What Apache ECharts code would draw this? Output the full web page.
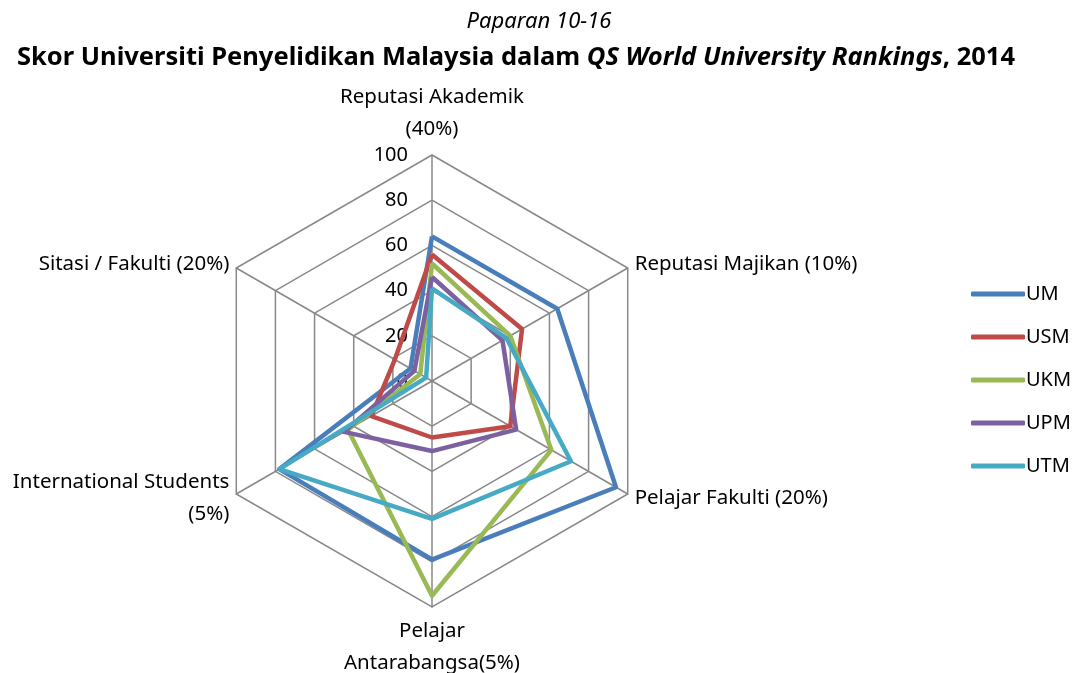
<!DOCTYPE html>
<html>
<head>
<meta charset="utf-8">
<script src="https://cdn.jsdelivr.net/npm/echarts@6/dist/echarts.min.js"></script>
<style>
  html, body { margin: 0; padding: 0; background: #fff; }
  #chart { width: 1078px; height: 673px; }
</style>
</head>
<body>
<div id="chart"></div>
<script>
// indicator order: ECharts lays axes counterclockwise from the top
const indicators = [
  'Reputasi Akademik\n(40%)',
  'Sitasi / Fakulti (20%)',
  'International Students\n(5%)',
  'Pelajar\nAntarabangsa(5%)',
  'Pelajar Fakulti (20%)',
  'Reputasi Majikan (10%)',
];
const universities = ['UM', 'USM', 'UKM', 'UPM', 'UTM'];
const colors = ['#4a7ebb', '#be4b48', '#98b954', '#7d60a0', '#46aac5'];

// skor ikut susunan indicators
const UM  = [64, 11, 78, 79, 94, 64];
const USM = [56, 19, 31, 25, 40, 46];
const UKM = [52, 6, 43, 95, 61, 40];
const UPM = [46, 9, 45, 31, 43, 36];
const UTM = [41, 3, 78, 61, 71, 38];
const seriesData = [UM, USM, UKM, UPM, UTM];

const FONT = '"Noto Sans", "Open Sans", sans-serif';
const chart = echarts.init(document.getElementById('chart'));

chart.setOption({
  backgroundColor: '#fff',
  animation: false,
  title: [{
    left: 'center',
    top: 6,
    text: 'Paparan 10-16',
    textStyle: { fontFamily: FONT, fontSize: 22, fontStyle: 'italic', fontWeight: 'normal', color: '#000' },
  }, {
    left: 12,
    top: 40,
    text: '{b|Skor Universiti Penyelidikan Malaysia dalam }{bi|QS World University Rankings}{b|, 2014}',
    textStyle: {
      rich: {
        b: { fontFamily: FONT, fontSize: 25.5, fontWeight: 'bold', color: '#000' },
        bi: { fontFamily: FONT, fontSize: 25.5, fontWeight: 'bold', fontStyle: 'italic', color: '#000' },
      },
    },
  }],
  legend: {
    orient: 'vertical',
    left: 966,
    top: 279,
    itemGap: 23,
    itemWidth: 54,
    itemHeight: 5,
    icon: 'roundRect',
    data: universities,
    textStyle: { fontFamily: FONT, fontSize: 20, color: '#000', padding: [0, 0, 0, -4] },
  },
  radar: {
    center: [432, 381],
    radius: 226,
    startAngle: 90,
    splitNumber: 5,
    shape: 'polygon',
    nameGap: 8,
    axisName: { fontFamily: FONT, fontSize: 20.5, color: '#000', lineHeight: 32 },
    axisLine: { lineStyle: { color: '#888', width: 1.5 } },
    splitLine: { lineStyle: { color: '#888', width: 1.5 } },
    splitArea: { show: false },
    axisTick: { show: false },
    axisLabel: { show: false },
    indicator: indicators.map((name, i) => ({
      name,
      min: 0,
      max: 100,
      axisLabel: i === 0
        ? { show: true, fontFamily: FONT, fontSize: 20, color: '#000', margin: 24 }
        : { show: false },
    })),
  },
  series: [{
    type: 'radar',
    symbol: 'none',
    data: universities.map((u, i) => ({
      name: u,
      value: seriesData[i],
      lineStyle: { color: colors[i], width: 4.5 },
      itemStyle: { color: colors[i] },
    })),
  }],
});
</script>
</body>
</html>
